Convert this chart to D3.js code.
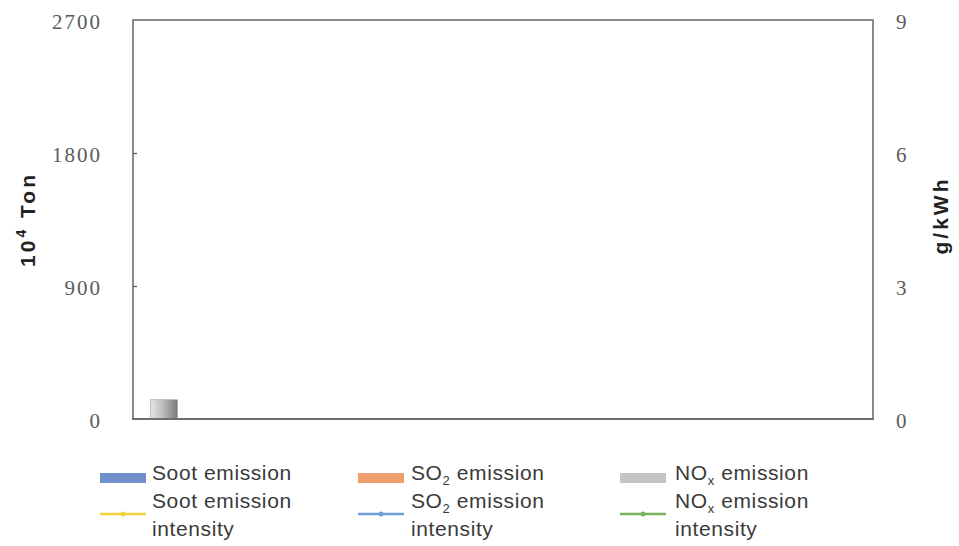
<!DOCTYPE html>
<html><head><meta charset="utf-8">
<script src="https://cdn.jsdelivr.net/npm/d3@7/dist/d3.min.js"></script>
<style>
body{margin:0;background:#fff;}
svg{display:block;}
</style></head>
<body>
<svg id="chart" width="959" height="546"></svg>
<script>
// Data
const categories = ["1","2","3","4","5","6","7","8","9","10","11","12"];
const sootEmission = [0,null,null,null,null,null,null,null,null,null,null,null];
const so2Emission  = [0,null,null,null,null,null,null,null,null,null,null,null];
const noxEmission  = [130,null,null,null,null,null,null,null,null,null,null,null];
const leftTicks = [0, 900, 1800, 2700];
const rightTicks = [0, 3, 6, 9];
const legendItems = [
  {key:"soot", type:"bar", label:["Soot emission"]},
  {key:"so2", type:"bar", label:["SO|2| emission"]},
  {key:"nox", type:"bar", label:["NO|x| emission"]},
  {key:"sootI", type:"line", label:["Soot emission","intensity"]},
  {key:"so2I", type:"line", label:["SO|2| emission","intensity"]},
  {key:"noxI", type:"line", label:["NO|x| emission","intensity"]}
];

const svg = d3.select("#chart");
const m = {left:133, right:873, top:20, bottom:419};
const colors = {soot:"#7090cc", so2:"#ef9e6e", nox:"#c4c4c4", sootI:"#f2d23a", so2I:"#6e9fd6", noxI:"#7cb35a"};

const x = d3.scaleBand().domain(categories).range([m.left, m.right]).paddingInner(0.56).paddingOuter(0.28);
const yL = d3.scaleLinear().domain([0, 2700]).range([m.bottom, m.top]);
const yR = d3.scaleLinear().domain([0, 9]).range([m.bottom, m.top]);

// gradient for NOx bar
const defs = svg.append("defs");
const g = defs.append("linearGradient").attr("id","noxGrad").attr("x1","0").attr("x2","1").attr("y1","0").attr("y2","0");
g.append("stop").attr("offset","0%").attr("stop-color","#e8e8e8");
g.append("stop").attr("offset","45%").attr("stop-color","#bdbdbd");
g.append("stop").attr("offset","100%").attr("stop-color","#7a7a7a");

// stacked bars
const stackData = categories.map((c,i)=>({cat:c, soot:sootEmission[i]||0, so2:so2Emission[i]||0, nox:noxEmission[i]||0}));
const series = d3.stack().keys(["soot","so2","nox"])(stackData);
const fills = {soot:colors.soot, so2:colors.so2, nox:"url(#noxGrad)"};
series.forEach(s=>{
  svg.append("g").selectAll("rect").data(s.filter(d=>d[1]-d[0]>0)).join("rect")
    .attr("x", d=>x(d.data.cat))
    .attr("width", x.bandwidth())
    .attr("y", d=>yL(d[1]))
    .attr("height", d=>yL(d[0])-yL(d[1]))
    .attr("fill", fills[s.key])
    .attr("stroke", "#9a9a9a").attr("stroke-width", 0.6);
});

// frame
const frameColor = "#8a8a8a";
svg.append("path")
  .attr("d", `M${m.left},${m.bottom}V${m.top}H${m.right}V${m.bottom}`)
  .attr("fill","none").attr("stroke",frameColor).attr("stroke-width",2);
svg.append("line").attr("x1",m.left-1).attr("x2",m.right+1).attr("y1",m.bottom).attr("y2",m.bottom)
  .attr("stroke","#6e6e6e").attr("stroke-width",2.2);

const tickFont = "'Liberation Serif', 'DejaVu Serif', serif";
// left axis
const axL = svg.append("g").attr("transform",`translate(${m.left},0)`)
  .call(d3.axisLeft(yL).tickValues(leftTicks).tickSize(-4).tickPadding(31).tickFormat(d3.format("d")));
axL.select(".domain").remove();
axL.selectAll(".tick line").attr("stroke","#555").attr("stroke-width",1.2)
  .filter(d=>d===0||d===2700).remove();
axL.selectAll("text").attr("font-family",tickFont).attr("font-size",21).attr("letter-spacing",2).attr("fill","#5a5a5a").attr("dy","0.4em");

// right axis
const axR = svg.append("g").attr("transform",`translate(${m.right},0)`)
  .call(d3.axisRight(yR).tickValues(rightTicks).tickSize(0).tickPadding(23).tickFormat(d3.format("d")));
axR.select(".domain").remove();
axR.selectAll("text").attr("font-family",tickFont).attr("font-size",21).attr("fill","#5a5a5a").attr("dy","0.4em");

// axis titles
const lt = svg.append("text").attr("transform",`translate(29,${(m.top+m.bottom)/2}) rotate(-90)`)
  .attr("text-anchor","middle").attr("font-family","'Liberation Sans', Arial, sans-serif")
  .attr("font-weight","bold").attr("font-size",21).attr("letter-spacing",3).attr("fill","#222")
  .attr("dominant-baseline","middle");
lt.append("tspan").text("10");
lt.append("tspan").text("4").attr("font-size",14).attr("dy",-7);
lt.append("tspan").text(" Ton").attr("dy",7);

svg.append("text").attr("transform",`translate(942,${(m.top+m.bottom)/2-4}) rotate(-90)`)
  .attr("text-anchor","middle").attr("font-family","'Liberation Sans', Arial, sans-serif")
  .attr("dominant-baseline","middle")
  .attr("font-weight","bold").attr("font-size",21).attr("letter-spacing",3).attr("fill","#222").text("g/kWh");

// legend
const colX = [100, 358, 620];
const textX = [152, 411, 675];
const legFont = "'Liberation Sans', Arial, sans-serif";
legendItems.forEach((it,i)=>{
  const col = i%3, row = Math.floor(i/3);
  const gx = colX[col];
  const gg = svg.append("g");
  let lines;
  if(it.type==="bar"){
    gg.append("rect").attr("x",gx).attr("y",473).attr("width",46).attr("height",10)
      .attr("fill", colors[it.key]);
    lines = [480];
  } else {
    gg.append("line").attr("x1",gx).attr("x2",gx+46).attr("y1",514).attr("y2",514)
      .attr("stroke",colors[it.key]).attr("stroke-width",2.5);
    gg.append("circle").attr("cx",gx+23).attr("cy",514).attr("r",2.5).attr("fill",colors[it.key]);
    lines = [508, 536];
  }
  it.label.forEach((ln,j)=>{
    const t = gg.append("text").attr("x",textX[col]).attr("y",lines[j])
      .attr("font-family",legFont).attr("font-size",21).attr("letter-spacing",0.6).attr("fill","#3a3a3a");
    const parts = ln.split("|");
    parts.forEach((p,k)=>{
      if(k===1){ t.append("tspan").text(p).attr("font-size",13).attr("dy",5); }
      else if(k===2){ t.append("tspan").text(p).attr("dy",-5); }
      else t.append("tspan").text(p);
    });
  });
});
</script>
</body></html>
